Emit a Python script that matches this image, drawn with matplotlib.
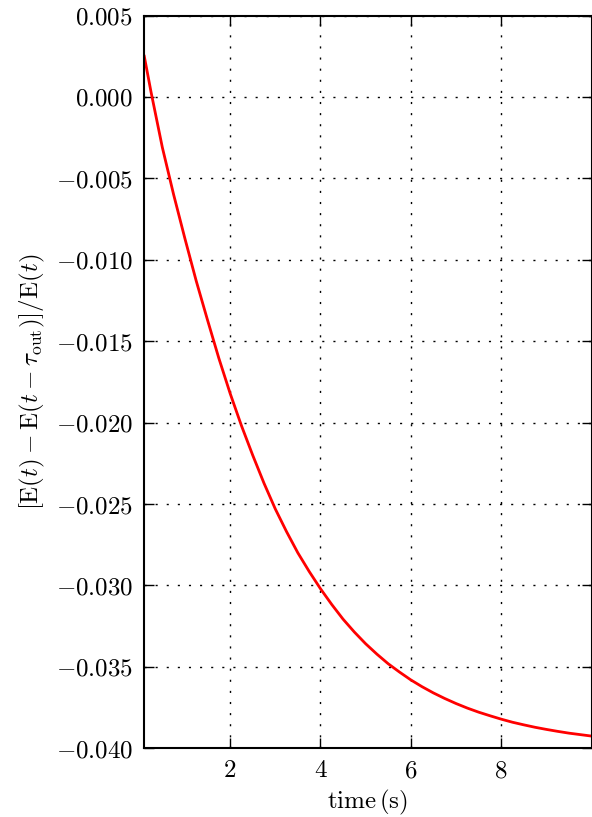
import matplotlib
matplotlib.use("Agg")
import matplotlib.pyplot as plt
from matplotlib.ticker import FuncFormatter, FixedLocator

# Data
time_s = [0.1, 0.25, 0.5, 0.75, 1.0, 1.25, 1.5, 1.75, 2.0, 2.25, 2.5, 2.75,
          3.0, 3.25, 3.5, 3.75, 4.0, 4.25, 4.5, 4.75, 5.0, 5.25, 5.5, 5.75,
          6.0, 6.25, 6.5, 6.75, 7.0, 7.25, 7.5, 7.75, 8.0, 8.25, 8.5, 8.75,
          9.0, 9.25, 9.5, 9.75, 10.0]
rel_diff = [0.0025, 0.0003, -0.0031, -0.0060, -0.0087, -0.0113, -0.0137, -0.01604,
            -0.0182, -0.02018, -0.0220, -0.02372, -0.0253, -0.0267, -0.0280, -0.02914,
            -0.0302, -0.03117, -0.03207, -0.03286, -0.03358, -0.03422, -0.03481, -0.03532,
            -0.0358, -0.03622, -0.0366, -0.03694, -0.03725, -0.03753, -0.03778, -0.0380,
            -0.03821, -0.0384, -0.03856, -0.03871, -0.03884, -0.03896, -0.03907, -0.03916,
            -0.03925]

x_ticks = [2, 4, 6, 8]
y_ticks = [0.005, 0.000, -0.005, -0.010, -0.015, -0.020, -0.025, -0.030, -0.035, -0.040]

plt.rcParams['mathtext.fontset'] = 'cm'
plt.rcParams['font.family'] = ['DejaVu Serif']

fig = plt.figure(figsize=(5.92, 8.17), dpi=100)
ax = fig.add_axes([0.2437, 0.0841, 0.7555, 0.8969])

ax.plot(time_s, rel_diff, color='red', linewidth=2.0, solid_joinstyle='round')

ax.set_xlim(0.1, 10.0)
ax.set_ylim(-0.040, 0.005)
ax.xaxis.set_major_locator(FixedLocator(x_ticks))
ax.yaxis.set_major_locator(FixedLocator(y_ticks))
ax.xaxis.set_major_formatter(FuncFormatter(lambda v, p: r'$%d$' % round(v)))
ax.yaxis.set_major_formatter(FuncFormatter(lambda v, p: (r'$%.3f$' % v).replace('-0.000', '0.000')))

ax.tick_params(which='major', direction='in', length=7, width=1.0,
               top=True, right=True, labelsize=18, pad=8)
for s in ax.spines.values():
    s.set_linewidth(1.5)

ax.grid(True, color='black', linewidth=1.0, linestyle=(0, (1.5, 6.5)))

ax.set_xlabel(r'$\mathrm{time\,(s)}$', fontsize=18, labelpad=4)
ax.set_ylabel(r'$[\mathrm{E}(t) - \mathrm{E}(t - \tau_{\rm out})]/\mathrm{E}(t)$', fontsize=18, labelpad=6)

fig.savefig('out.png', dpi=100)
